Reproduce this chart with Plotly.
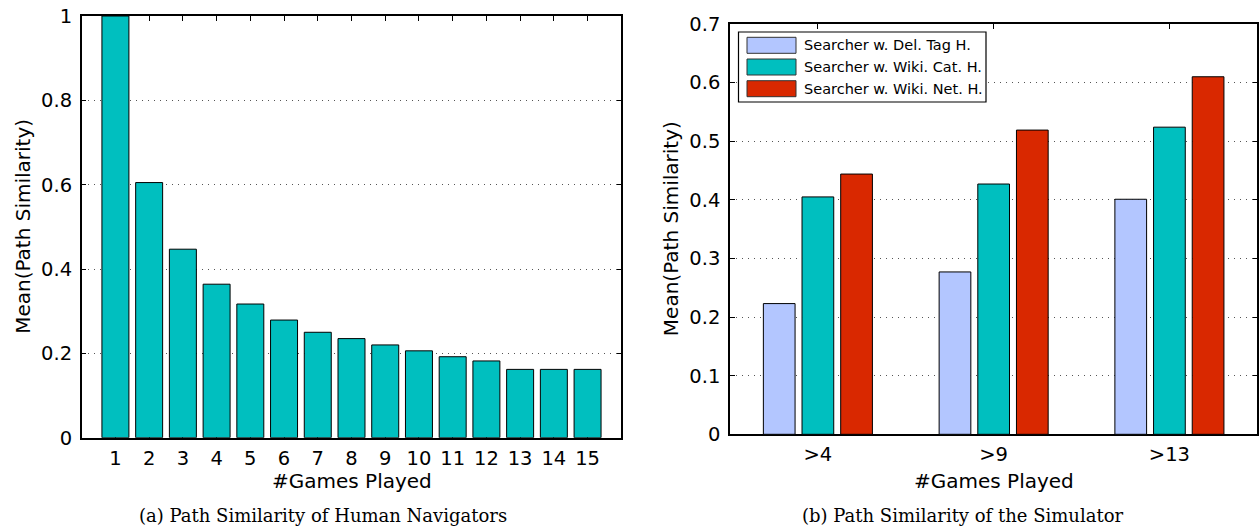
import plotly.graph_objects as go

# ---------------- data ----------------
games_played = list(range(1, 16))
human_similarity = [1.0, 0.605, 0.447, 0.364, 0.317, 0.279, 0.250, 0.235,
                    0.220, 0.206, 0.192, 0.182, 0.162, 0.162, 0.162]

sim_groups = [">4", ">9", ">13"]
series_names = ["Searcher w. Del. Tag H.", "Searcher w. Wiki. Cat. H.", "Searcher w. Wiki. Net. H."]
del_tag_h = [0.223, 0.277, 0.401]
wiki_cat_h = [0.405, 0.427, 0.524]
wiki_net_h = [0.444, 0.519, 0.610]

left_yticks = [0, 0.2, 0.4, 0.6, 0.8, 1.0]
right_yticks = [0, 0.1, 0.2, 0.3, 0.4, 0.5, 0.6, 0.7]

# ---------------- styling ----------------
W, H = 1259, 527
TEAL = "#00BFBF"
LBLUE = "#B3C6FF"
RED = "#D92800"
FONT = "DejaVu Sans"
SERIF = "DejaVu Serif"

def px(x):
    return x / W

def py(y):
    return 1 - y / H

# plot areas in pixels
L = dict(x0=81.7, x1=621.3, yt=16.0, yb=437.7)
R = dict(x0=730.0, x1=1257.3, yt=24.0, yb=434.3)

fig = go.Figure()

fig.add_trace(go.Bar(
    x=games_played, y=human_similarity, width=0.8,
    marker=dict(color=TEAL, line=dict(color="black", width=1)),
    xaxis="x", yaxis="y", showlegend=False,
))

for name, vals, col in zip(series_names, [del_tag_h, wiki_cat_h, wiki_net_h], [LBLUE, TEAL, RED]):
    fig.add_trace(go.Bar(
        x=sim_groups, y=vals, name=name,
        marker=dict(color=col, line=dict(color="black", width=1)),
        xaxis="x2", yaxis="y2", showlegend=False,
    ))

axis_common = dict(
    showline=True, linecolor="black", linewidth=1.5, mirror="ticks",
    ticks="inside", ticklen=5, tickcolor="black", tickwidth=1,
    tickfont=dict(family=FONT, size=19.5, color="black"),
    zeroline=False, automargin=False, fixedrange=True,
)

fig.update_layout(
    width=W, height=H,
    margin=dict(l=0, r=0, t=0, b=0),
    paper_bgcolor="white", plot_bgcolor="white",
    barmode="group", bargap=0.34, bargroupgap=0.18,
    font=dict(family=FONT, color="black"),
    xaxis=dict(domain=[px(L["x0"]), px(L["x1"])], anchor="y", range=[0, 16],
               tickvals=games_played, showgrid=False, layer="below traces",
               ticklabelstandoff=2, **axis_common),
    yaxis=dict(domain=[py(L["yb"]), py(L["yt"])], anchor="x", range=[0, 1],
               tickvals=left_yticks, showgrid=True, gridcolor="#555555",
               griddash="1px,5px", gridwidth=1, ticklabelstandoff=4, **axis_common),
    xaxis2=dict(domain=[px(R["x0"]), px(R["x1"])], anchor="y2", range=[-0.5, 2.5],
                type="category", showgrid=False, layer="below traces",
                ticklabelstandoff=2, **axis_common),
    yaxis2=dict(domain=[py(R["yb"]), py(R["yt"])], anchor="x2", range=[0, 0.7],
                tickvals=right_yticks, showgrid=True, gridcolor="#555555",
                griddash="1px,5px", gridwidth=1, ticklabelstandoff=4, **axis_common),
)

ann = []
# axis titles
ann.append(dict(text="Mean(Path Similarity)", x=px(23), y=py((L["yt"] + L["yb"]) / 2),
                textangle=-90, font=dict(family=FONT, size=20)))
ann.append(dict(text="Mean(Path Similarity)", x=px(671), y=py((R["yt"] + R["yb"]) / 2),
                textangle=-90, font=dict(family=FONT, size=20)))
ann.append(dict(text="#Games Played", x=px((L["x0"] + L["x1"]) / 2), y=py(481),
                font=dict(family=FONT, size=20)))
ann.append(dict(text="#Games Played", x=px((R["x0"] + R["x1"]) / 2), y=py(481),
                font=dict(family=FONT, size=20)))
# captions
ann.append(dict(text="(a) Path Similarity of Human Navigators", x=px(323), y=py(515),
                font=dict(family=SERIF, size=18)))
ann.append(dict(text="(b) Path Similarity of the Simulator", x=px(962), y=py(515),
                font=dict(family=SERIF, size=18)))

for a in ann:
    a.update(xref="paper", yref="paper", showarrow=False, xanchor="center", yanchor="middle")

# custom legend (box, swatches, labels)
shapes = []
shapes.append(dict(type="rect", xref="paper", yref="paper",
                   x0=px(738.5), x1=px(986), y0=py(102), y1=py(32),
                   line=dict(color="black", width=1.2), fillcolor="white", layer="above"))
row_y = [45.3, 67.0, 88.7]
for name, col, ry in zip(series_names, [LBLUE, TEAL, RED], row_y):
    shapes.append(dict(type="rect", xref="paper", yref="paper",
                       x0=px(747), x1=px(796), y0=py(ry + 8), y1=py(ry - 8),
                       line=dict(color="#333333", width=1), fillcolor=col, layer="above"))
    ann.append(dict(text=name, x=px(801.5), y=py(ry), xref="paper", yref="paper",
                    showarrow=False, xanchor="left", yanchor="middle",
                    font=dict(family=FONT, size=14.5)))

fig.update_layout(annotations=ann, shapes=shapes)

fig.write_html("out.html",
               config={"displayModeBar": False},
               post_script="document.body.style.margin='0';document.body.style.overflow='hidden';")
